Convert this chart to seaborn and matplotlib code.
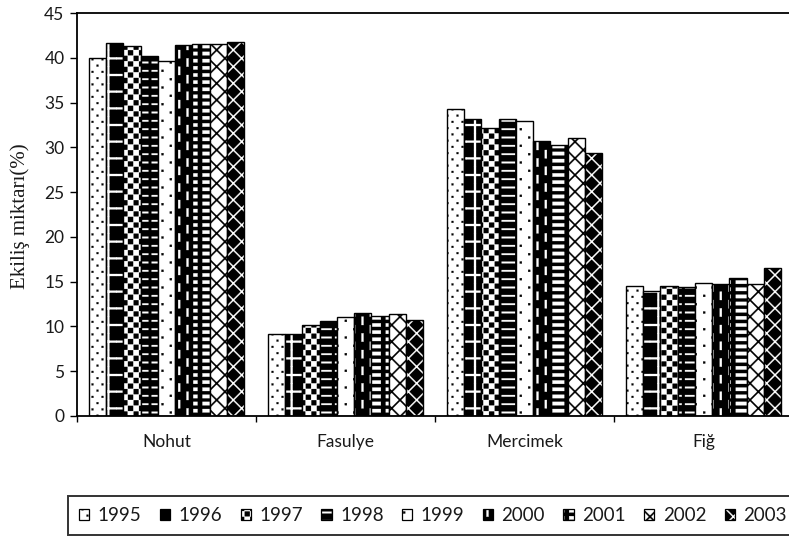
import numpy as np
import pandas as pd
import matplotlib
matplotlib.use("Agg")
import matplotlib.pyplot as plt
import matplotlib.hatch as mhatch
from matplotlib.path import Path
from matplotlib.colors import to_rgba
from matplotlib.patches import Patch
import seaborn as sns

# ---------------------------------------------------------------- data
crops = ["Nohut", "Fasulye", "Mercimek", "Fiğ"]
years = ["1995", "1996", "1997", "1998", "1999", "2000", "2001", "2002", "2003"]

y1995 = [40.0, 9.2, 34.3, 14.5]
y1996 = [41.6, 9.2, 33.2, 14.0]
y1997 = [41.3, 10.2, 32.2, 14.5]
y1998 = [40.2, 10.6, 33.2, 14.4]
y1999 = [39.6, 11.0, 32.9, 14.8]
y2000 = [41.4, 11.5, 30.7, 14.7]
y2001 = [41.5, 11.2, 30.3, 15.4]
y2002 = [41.5, 11.4, 31.0, 14.7]
y2003 = [41.8, 10.7, 29.4, 16.5]
series = [y1995, y1996, y1997, y1998, y1999, y2000, y2001, y2002, y2003]

y_ticks = [0, 5, 10, 15, 20, 25, 30, 35, 40, 45]

# ------------------------------------------------ monochrome fill patterns
# Each pattern is a tile of filled polygons (pixel units, 100 px per hatch
# unit at 100 dpi) repeated over the hatch unit.
DPI = 100
HU = 100.0


def rect(x0, y0, w, h):
    return [(x0, y0), (x0 + w, y0), (x0 + w, y0 + h), (x0, y0 + h)]


def dot(cx, cy, s):
    return rect(cx - s / 2, cy - s / 2, s, s)


def strip(p, q, t):
    (x0, y0), (x1, y1) = p, q
    dx, dy = x1 - x0, y1 - y0
    L = np.hypot(dx, dy)
    nx, ny = -dy / L * t / 2, dx / L * t / 2
    return [(x0 - nx, y0 - ny), (x1 - nx, y1 - ny),
            (x1 + nx, y1 + ny), (x0 + nx, y0 + ny)]


class TileHatch(mhatch.HatchPatternBase):
    key = None
    nx = ny = 1

    @staticmethod
    def shapes(w, h):
        return []

    def __init__(self, hatch, density):
        self.polys = []
        if hatch and self.key in hatch:
            w, h = HU / self.nx, HU / self.ny
            base = self.shapes(w, h)
            for i in range(-1, self.nx + 1):
                for j in range(-1, self.ny + 1):
                    for poly in base:
                        self.polys.append([((x + i * w) / HU, (y + j * h) / HU)
                                           for x, y in poly])
        self.num_vertices = sum(len(p) + 1 for p in self.polys)

    def set_vertices_and_codes(self, vertices, codes):
        k = 0
        for poly in self.polys:
            n = len(poly)
            vertices[k:k + n] = poly
            vertices[k + n] = poly[0]
            codes[k] = Path.MOVETO
            codes[k + 1:k + n] = Path.LINETO
            codes[k + n] = Path.CLOSEPOLY
            k += n + 1


def register(key, nx, ny, shapes):
    cls = type("Hatch_" + key, (TileHatch,),
               {"key": key, "nx": nx, "ny": ny, "shapes": staticmethod(shapes)})
    mhatch._hatch_types.append(cls)


register("a", 10, 8, lambda w, h: [dot(w * .25, h * .25, 1.8), dot(w * .75, h * .75, 1.8)])
register("b", 6, 6, lambda w, h: [rect(w / 2 - 1, 0, 2, h), rect(0, h / 2 - 1, w, 2)])
register("c", 9, 9, lambda w, h: [rect(0, 0, w / 2, h / 2), rect(w / 2, h / 2, w / 2, h / 2)])
register("d", 6, 12, lambda w, h: [rect(w * .1, h / 2 - .8, w * .8, 1.6)])
register("e", 6, 6, lambda w, h: [dot(w * .25, h * .25, 2.0), dot(w * .75, h * .75, 2.0)])
register("f", 6, 6, lambda w, h: [rect(w * .25 - 1, 0, 2, h * .5),
                                  rect(w * .75 - 1, h * .5, 2, h * .5)])
register("g", 6, 14, lambda w, h: [rect(w * .15, h / 2 - 1.7, w * .7, 3.4)])
register("h", 6, 6, lambda w, h: [strip((0, 0), (w, h), 1.4), strip((0, h), (w, 0), 1.4)])
register("i", 6, 6, lambda w, h: [strip((0, 0), (w, h), 1.2), strip((0, h), (w, 0), 1.2)])

mhatch._validate_hatch_pattern = lambda hatch: None

# face colour, pattern key, pattern colour for every year
face_colors = ["white", "black", "black", "black", "white", "black", "black", "white", "black"]
hatch_keys = ["a", "b", "c", "d", "e", "f", "g", "h", "i"]
hatch_colors = ["black", "white", "white", "white", "black", "white", "white", "black", "white"]

# ---------------------------------------------------------------- figure
sns.set_style("white")
plt.rcParams["font.family"] = ["Lato", "DejaVu Sans"]
plt.rcParams["hatch.linewidth"] = 0.2

df = pd.DataFrame(
    [(c, yr, v) for yr, vals in zip(years, series) for c, v in zip(crops, vals)],
    columns=["crop", "year", "value"],
)

fig = plt.figure(figsize=(7.89, 5.38), dpi=DPI)
ax = fig.add_axes([77 / 789, 122 / 538, 716 / 789, 403 / 538])

sns.barplot(
    data=df, x="crop", y="value", hue="year", order=crops, hue_order=years,
    palette=dict(zip(years, face_colors)), saturation=1, width=0.87, gap=0,
    edgecolor="black", linewidth=1.0, legend=False, errorbar=None, ax=ax,
)

for cont, hk, hc in zip(ax.containers, hatch_keys, hatch_colors):
    for bar in cont:
        bar.set_hatch(hk)
        bar._hatch_color = to_rgba(hc)

# axes styling
ax.set_ylim(0, 45)
ax.set_xlim(-0.5, len(crops) - 0.5)
ax.set_yticks(y_ticks)
ax.set_yticklabels([str(t) for t in y_ticks])
ax.set_xticks(range(len(crops)))
ax.set_xticklabels(crops)
ax.set_xticks(np.arange(-0.5, len(crops)), minor=True)
ax.tick_params(axis="x", which="major", length=0, pad=13, labelsize=12.5, labelcolor="#1a1a1a")
ax.tick_params(axis="x", which="minor", length=4, width=1, direction="out", color="black", bottom=True)
ax.tick_params(axis="y", length=5, width=1, direction="out", pad=4, labelsize=12.5,
               labelcolor="#1a1a1a", color="black", left=True)
ax.set_xlabel("")
ax.set_ylabel("Ekiliş miktarı(%)", fontfamily=["Liberation Serif"], fontsize=15, color="#1a1a1a")
ax.yaxis.set_label_coords(-0.066, 0.495)

for side in ["left", "bottom", "top"]:
    ax.spines[side].set_visible(True)
    ax.spines[side].set_color("black")
    ax.spines[side].set_linewidth(1.3)
ax.spines["right"].set_visible(False)

# legend in a single row below the plot
handles = []
for yr, fc, hk, hc in zip(years, face_colors, hatch_keys, hatch_colors):
    p = Patch(facecolor=fc, edgecolor="black", hatch=hk, linewidth=0.9, label=yr)
    p._hatch_color = to_rgba(hc)
    handles.append(p)

leg = fig.legend(
    handles=handles, loc="upper left", bbox_to_anchor=(68 / 789, 1 - 496 / 538),
    ncol=9, frameon=True, fancybox=False, shadow=False, fontsize=13.5,
    handlelength=0.55, handleheight=0.55, handletextpad=0.45, columnspacing=0.98,
    borderpad=0.58, borderaxespad=0,
)
leg.get_frame().set_edgecolor("black")
leg.get_frame().set_linewidth(1.4)
for t in leg.get_texts():
    t.set_color("#1a1a1a")

fig.savefig("out.png", dpi=DPI)
